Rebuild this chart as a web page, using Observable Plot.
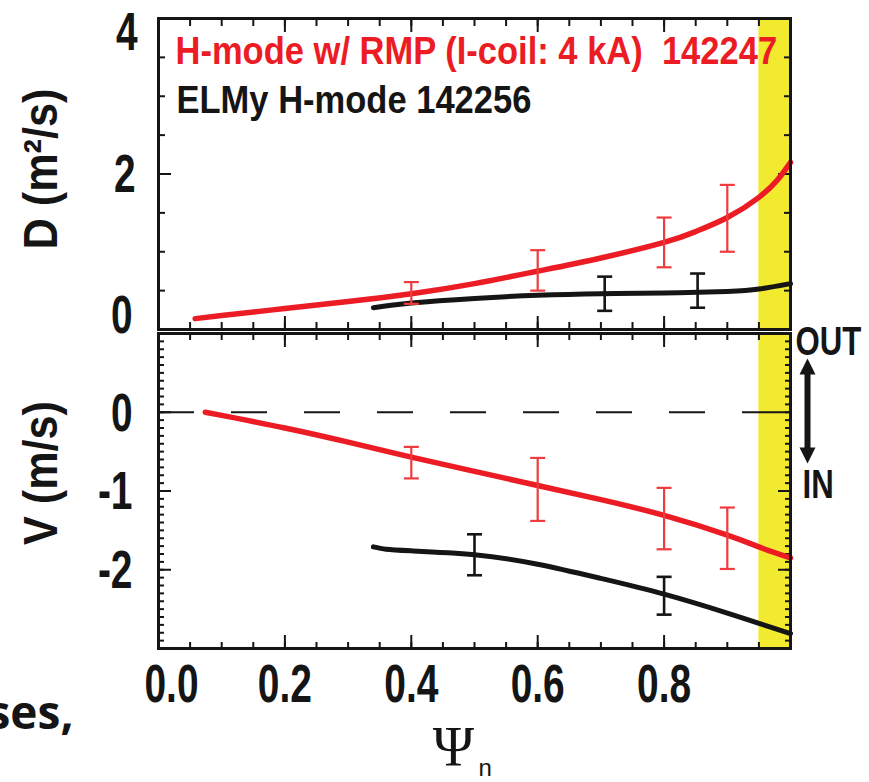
<!DOCTYPE html>
<html>
<head>
<meta charset="utf-8">
<script src="https://cdn.jsdelivr.net/npm/d3@7"></script>
<script src="https://cdn.jsdelivr.net/npm/@observablehq/plot@0.6"></script>
<style>
  html, body { margin: 0; padding: 0; background: #fff; overflow: hidden; }
  #chart { position: relative; width: 869px; height: 782px; }
  #chart svg { position: absolute; left: 0; top: 0; }
</style>
</head>
<body>
<div id="chart"></div>
<script>
// ---- D profiles (top panel) ----
const psiDRmp = [0.058, 0.1, 0.2, 0.3, 0.4, 0.5, 0.6, 0.7, 0.8, 0.85, 0.9, 0.95, 0.98, 1.0];
const dRmp    = [0.14, 0.18, 0.27, 0.36, 0.46, 0.59, 0.75, 0.92, 1.12, 1.26, 1.44, 1.70, 1.93, 2.15];
const psiDElm = [0.34, 0.4, 0.5, 0.6, 0.7, 0.8, 0.9, 0.95, 1.0];
const dElm    = [0.28, 0.34, 0.40, 0.44, 0.46, 0.47, 0.49, 0.52, 0.59];

// D error bars
const psiDRmpBar = [0.4, 0.6, 0.8, 0.9];
const dRmpBar    = [0.47, 0.76, 1.12, 1.43];
const dRmpErr    = [0.14, 0.26, 0.32, 0.43];
const psiDElmBar = [0.706, 0.853];
const dElmBar    = [0.46, 0.50];
const dElmErr    = [0.22, 0.22];

// ---- V profiles (bottom panel) ----
const psiVRmp = [0.074, 0.1, 0.2, 0.3, 0.4, 0.5, 0.6, 0.7, 0.8, 0.9, 0.95, 1.0];
const vRmp    = [0.0, -0.04, -0.20, -0.38, -0.57, -0.75, -0.93, -1.11, -1.31, -1.56, -1.71, -1.85];
const psiVElm = [0.34, 0.36, 0.4, 0.5, 0.6, 0.7, 0.8, 0.9, 0.95, 1.0];
const vElm    = [-1.71, -1.74, -1.76, -1.81, -1.93, -2.11, -2.31, -2.55, -2.68, -2.81];

// V error bars
const psiVRmpBar = [0.4, 0.6, 0.8, 0.9];
const vRmpBar    = [-0.64, -0.98, -1.35, -1.60];
const vRmpErr    = [0.20, 0.40, 0.39, 0.39];
const psiVElmBar = [0.5, 0.8];
const vElmBar    = [-1.81, -2.33];
const vElmErr    = [0.26, 0.24];

// edge region shading and the V = 0 reference
const edgeBand = [0.95, 1.0];
const zeroLine = [0];

// ticks and labels
const psiMajor = [0, 0.2, 0.4, 0.6, 0.8, 1.0];
const psiMinor = d3.range(0, 1.0001, 0.05);
const psiLabelTicks = [0.2, 0.4, 0.6, 0.8];
const psiFirstLabel = [0];
const dMajor = [0, 2, 4];
const dMinor = d3.range(0, 4.0001, 0.5);
const vMajor = [-3, -2, -1, 0, 1];
const vMinor = d3.range(-3, 1.0001, 0.1);
const vLabelTicks = [-2, -1, 0];

const legendRmp = "H-mode w/ RMP (I-coil: 4 kA)  142247";
const legendElm = "ELMy H-mode 142256";
const dTitle = "D (m\u00b2/s)";
const vTitle = "V (m/s)";

// ---- styling ----
const RED = "#ec1c24", RED_BAR = "#ee3b3e", INK = "#151515", YELLOW = "#f2ea2f";
const SANS = "'Liberation Sans', Arial, sans-serif";
const W = 869, H = 782;
const X0 = 158, X1 = 790;

// font sizes, each with its own horizontal squeeze (condensed bold lettering)
const TICK_SIZE = 54, LEGEND_SIZE = 39, SIDE_SIZE = 41, TITLE_SIZE = 48;
const squeeze = {[TICK_SIZE]: 0.72, [LEGEND_SIZE]: 0.885, [SIDE_SIZE]: 0.76, [TITLE_SIZE]: 0.9};

const rows = (xs, ys) => xs.map((x, i) => ({x, y: ys[i]}));
const bars = (xs, ys, es) => xs.map((x, i) => ({x, y: ys[i], e: es[i]}));

// a flat horizontal cap for error bars (symbol size = r²π)
const capSymbol = {
  draw(context, size) {
    const r = Math.sqrt(size / Math.PI);
    context.moveTo(-r, 0);
    context.lineTo(r, 0);
  }
};

// filled double-headed arrow along the vector direction
const doubleArrow = {
  draw(context, l) {
    const h = 16, hw = 8, sw = 3;
    context.moveTo(0, 0);
    context.lineTo(hw, -h);
    context.lineTo(sw, -h);
    context.lineTo(sw, -(l - h));
    context.lineTo(hw, -(l - h));
    context.lineTo(0, -l);
    context.lineTo(-hw, -(l - h));
    context.lineTo(-sw, -(l - h));
    context.lineTo(-sw, -h);
    context.lineTo(-hw, -h);
    context.closePath();
  }
};

function errorBars(data, color, width) {
  return [
    Plot.ruleX(data, {x: "x", y1: d => d.y - d.e, y2: d => d.y + d.e, stroke: color, strokeWidth: width}),
    Plot.dot(data, {x: "x", y: d => d.y - d.e, symbol: capSymbol, r: 7.5, fill: "none", stroke: color, strokeWidth: width}),
    Plot.dot(data, {x: "x", y: d => d.y + d.e, symbol: capSymbol, r: 7.5, fill: "none", stroke: color, strokeWidth: width})
  ];
}

// inward ticks on both opposite edges of the frame
function inwardTicks(dim, values, size) {
  const axis = dim === "x" ? Plot.axisX : Plot.axisY;
  const anchors = dim === "x" ? ["bottom", "top"] : ["left", "right"];
  return anchors.map(anchor => axis(values, {
    anchor, tickSize: -size, strokeWidth: 2, stroke: INK,
    fill: "none", tickFormat: () => "", label: null
  }));
}

const tickText = {fontFamily: SANS, fontWeight: "bold", fontSize: TICK_SIZE, fill: INK, tickSize: 0, label: null, tickFormat: d => String(d)};

const baseStyle = {background: "transparent", overflow: "visible", color: INK};

// ---------- top panel: D ----------
const panelD = Plot.plot({
  width: W, height: H,
  marginLeft: X0, marginRight: W - X1, marginTop: 18, marginBottom: H - 329,
  style: baseStyle,
  x: {domain: [0, 1], axis: null},
  y: {domain: [0, 4], axis: null},
  marks: [
    Plot.rect([edgeBand], {x1: d => d[0], x2: d => d[1], y1: 0, y2: 4, fill: YELLOW}),
    ...inwardTicks("x", psiMinor, 7),
    ...inwardTicks("x", psiMajor, 13),
    ...inwardTicks("y", dMinor, 7),
    ...inwardTicks("y", dMajor, 13),
    Plot.line(rows(psiDRmp, dRmp), {x: "x", y: "y", curve: "natural", stroke: RED, strokeWidth: 5.5}),
    Plot.line(rows(psiDElm, dElm), {x: "x", y: "y", curve: "natural", stroke: INK, strokeWidth: 5}),
    ...errorBars(bars(psiDRmpBar, dRmpBar, dRmpErr), RED_BAR, 2.2),
    ...errorBars(bars(psiDElmBar, dElmBar, dElmErr), INK, 2.6),
    Plot.frame({stroke: INK, strokeWidth: 3}),
    Plot.axisY([2], {...tickText, anchor: "left", tickPadding: 23, dy: 1}),
    Plot.axisY([4], {...tickText, anchor: "left", tickPadding: 21, dy: 14}),
    Plot.axisY([0], {...tickText, anchor: "left", tickPadding: 26, dy: -14}),
    Plot.text([dTitle], {text: d => d, frameAnchor: "left", textAnchor: "middle", dx: -117, dy: -5, rotate: -90,
      fontFamily: SANS, fontWeight: "bold", fontSize: TITLE_SIZE, fill: INK}),
    Plot.text([legendRmp], {text: d => d, frameAnchor: "top-left", dx: 17, dy: 45, lineAnchor: "bottom",
      textAnchor: "start", fontFamily: SANS, fontWeight: "bold", fontSize: LEGEND_SIZE, fill: RED}),
    Plot.text([legendElm], {text: d => d, frameAnchor: "top-left", dx: 18, dy: 94, lineAnchor: "bottom",
      textAnchor: "start", fontFamily: SANS, fontWeight: "bold", fontSize: LEGEND_SIZE, fill: INK})
  ]
});

// ---------- bottom panel: V ----------
const panelV = Plot.plot({
  width: W, height: H,
  marginLeft: X0, marginRight: W - X1, marginTop: 333, marginBottom: H - 648,
  style: baseStyle,
  x: {domain: [0, 1], axis: null},
  y: {domain: [-3, 1], axis: null},
  marks: [
    Plot.rect([edgeBand], {x1: d => d[0], x2: d => d[1], y1: -3, y2: 1, fill: YELLOW}),
    ...inwardTicks("x", psiMinor, 6),
    ...inwardTicks("x", psiMajor, 13),
    ...inwardTicks("y", vMinor, 6),
    ...inwardTicks("y", vMajor, 13),
    Plot.ruleY(zeroLine, {stroke: INK, strokeWidth: 2.2, strokeDasharray: "36,37"}),
    Plot.line(rows(psiVRmp, vRmp), {x: "x", y: "y", curve: "natural", stroke: RED, strokeWidth: 5.5}),
    Plot.line(rows(psiVElm, vElm), {x: "x", y: "y", curve: "natural", stroke: INK, strokeWidth: 5}),
    ...errorBars(bars(psiVRmpBar, vRmpBar, vRmpErr), RED_BAR, 2.2),
    ...errorBars(bars(psiVElmBar, vElmBar, vElmErr), INK, 2.6),
    Plot.frame({stroke: INK, strokeWidth: 3}),
    Plot.axisY(vLabelTicks, {...tickText, anchor: "left", tickPadding: 26, dy: 1}),
    Plot.axisX(psiLabelTicks, {...tickText, anchor: "bottom", tickPadding: 15, tickFormat: d3.format(".1f")}),
    Plot.axisX(psiFirstLabel, {...tickText, anchor: "bottom", tickPadding: 15, dx: 13, tickFormat: d3.format(".1f")}),
    Plot.text([vTitle], {text: d => d, frameAnchor: "left", textAnchor: "middle", dx: -117, dy: -18, rotate: -90,
      fontFamily: SANS, fontWeight: "bold", fontSize: TITLE_SIZE, fill: INK}),
    Plot.text(["OUT"], {text: d => d, frameAnchor: "top-right", dx: 5, dy: 21, lineAnchor: "bottom",
      textAnchor: "start", fontFamily: SANS, fontWeight: "bold", fontSize: SIDE_SIZE, fill: INK}),
    Plot.text(["IN"], {text: d => d, frameAnchor: "top-right", dx: 12, dy: 164, lineAnchor: "bottom",
      textAnchor: "start", fontFamily: SANS, fontWeight: "bold", fontSize: SIDE_SIZE, fill: INK}),
    Plot.vector([0], {frameAnchor: "top-right", dx: 17, dy: 25, anchor: "start", length: 105, rotate: 180,
      shape: doubleArrow, fill: INK, stroke: "none"}),
    Plot.text(["\u03a8"], {text: d => d, frameAnchor: "bottom", dx: -21, dy: 117, lineAnchor: "bottom",
      fontFamily: "'Liberation Serif', 'Times New Roman', serif", fontSize: 56, fill: INK}),
    Plot.text(["n"], {text: d => d, frameAnchor: "bottom", dx: 4, dy: 127, lineAnchor: "bottom",
      textAnchor: "start", fontFamily: SANS, fontSize: 24, fill: INK}),
    Plot.text(["ses,"], {text: d => d, frameAnchor: "bottom-left", dx: -85, dy: 80, lineAnchor: "bottom",
      textAnchor: "end", fontFamily: "'Open Sans', sans-serif", fontWeight: "bold", fontSize: 46, fill: INK})
  ]
});

document.getElementById("chart").append(panelD, panelV);

// narrow the bold lettering horizontally, per font size
for (const svg of [panelD, panelV]) {
  for (const [size, ratio] of Object.entries(squeeze)) {
    svg.querySelectorAll(`g[font-size="${size}"] text`).forEach(t => {
      const w = t.getComputedTextLength();
      t.setAttribute("textLength", (w * ratio).toFixed(1));
      t.setAttribute("lengthAdjust", "spacingAndGlyphs");
    });
  }
}
</script>
</body>
</html>
